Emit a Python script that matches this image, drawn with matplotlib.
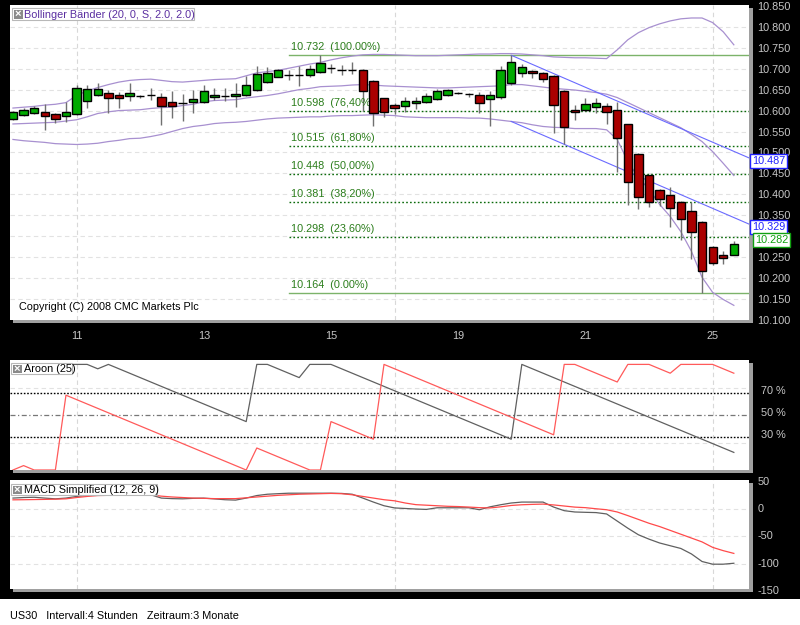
import matplotlib
matplotlib.use("Agg")
import matplotlib.pyplot as plt
from matplotlib.patches import Rectangle
from matplotlib.transforms import ScaledTranslation

plt.rcParams['font.family'] = ['Liberation Sans', 'DejaVu Sans']

# 4-hour candles, US30 (index 0..68)
opens = [10.581, 10.590, 10.594, 10.597, 10.592, 10.586, 10.592, 10.623, 10.637, 10.642,
         10.636, 10.634, 10.634, 10.636, 10.632, 10.620, 10.618, 10.620, 10.620, 10.632,
         10.635, 10.634, 10.636, 10.649, 10.668, 10.681, 10.686, 10.685, 10.685, 10.693,
         10.701, 10.697, 10.697, 10.697, 10.671, 10.629, 10.613, 10.611, 10.617, 10.620,
         10.628, 10.637, 10.642, 10.639, 10.638, 10.627, 10.632, 10.666, 10.690, 10.695,
         10.690, 10.683, 10.646, 10.602, 10.602, 10.609, 10.611, 10.601, 10.568, 10.497,
         10.445, 10.411, 10.399, 10.382, 10.361, 10.335, 10.275, 10.256, 10.254]
highs = [10.600, 10.606, 10.611, 10.616, 10.594, 10.620, 10.662, 10.662, 10.666, 10.650,
         10.645, 10.666, 10.638, 10.654, 10.643, 10.647, 10.640, 10.649, 10.662, 10.655,
         10.655, 10.665, 10.683, 10.707, 10.705, 10.700, 10.696, 10.707, 10.709, 10.732,
         10.712, 10.708, 10.715, 10.700, 10.672, 10.630, 10.617, 10.632, 10.632, 10.643,
         10.652, 10.651, 10.645, 10.641, 10.644, 10.647, 10.707, 10.732, 10.710, 10.697,
         10.691, 10.684, 10.648, 10.613, 10.630, 10.631, 10.618, 10.620, 10.569, 10.498,
         10.446, 10.412, 10.418, 10.383, 10.381, 10.336, 10.276, 10.264, 10.289]
lows = [10.578, 10.588, 10.592, 10.553, 10.570, 10.573, 10.590, 10.605, 10.635, 10.593,
        10.606, 10.624, 10.630, 10.626, 10.566, 10.582, 10.574, 10.595, 10.618, 10.626,
        10.623, 10.608, 10.634, 10.647, 10.665, 10.679, 10.672, 10.659, 10.680, 10.690,
        10.690, 10.685, 10.688, 10.598, 10.564, 10.585, 10.592, 10.597, 10.603, 10.618,
        10.626, 10.635, 10.640, 10.632, 10.593, 10.564, 10.628, 10.660, 10.679, 10.678,
        10.667, 10.547, 10.521, 10.578, 10.600, 10.595, 10.568, 10.454, 10.374, 10.366,
        10.370, 10.373, 10.322, 10.292, 10.245, 10.164, 10.231, 10.234, 10.254]
closes = [10.597, 10.602, 10.605, 10.588, 10.581, 10.597, 10.655, 10.651, 10.651, 10.631,
          10.629, 10.643, 10.634, 10.636, 10.612, 10.612, 10.617, 10.628, 10.647, 10.637,
          10.635, 10.640, 10.661, 10.687, 10.690, 10.697, 10.686, 10.685, 10.699, 10.713,
          10.701, 10.697, 10.697, 10.646, 10.593, 10.597, 10.605, 10.624, 10.624, 10.635,
          10.647, 10.649, 10.642, 10.639, 10.618, 10.638, 10.697, 10.715, 10.704, 10.690,
          10.675, 10.613, 10.561, 10.597, 10.616, 10.617, 10.597, 10.535, 10.430, 10.394,
          10.381, 10.389, 10.368, 10.342, 10.311, 10.218, 10.237, 10.249, 10.282]

# Bollinger (20, 2.0)
bb_upper = [10.606, 10.608, 10.610, 10.613, 10.615, 10.619, 10.636, 10.647, 10.655, 10.662,
            10.668, 10.672, 10.674, 10.675, 10.672, 10.669, 10.668, 10.670, 10.672, 10.674,
            10.675, 10.676, 10.683, 10.690, 10.693, 10.696, 10.701, 10.706, 10.711, 10.715,
            10.721, 10.726, 10.730, 10.733, 10.734, 10.734, 10.733, 10.732, 10.731, 10.731,
            10.731, 10.732, 10.733, 10.734, 10.735, 10.735, 10.736, 10.736, 10.735, 10.733,
            10.731, 10.728, 10.727, 10.726, 10.726, 10.725, 10.724, 10.745, 10.769, 10.786,
            10.798, 10.807, 10.814, 10.819, 10.821, 10.821, 10.810, 10.788, 10.757]
bb_middle = [10.568, 10.569, 10.570, 10.571, 10.572, 10.575, 10.578, 10.585, 10.593, 10.597,
             10.600, 10.601, 10.602, 10.605, 10.607, 10.608, 10.612, 10.615, 10.621, 10.624,
             10.625, 10.626, 10.630, 10.633, 10.636, 10.640, 10.645, 10.650, 10.653, 10.657,
             10.658, 10.659, 10.661, 10.662, 10.661, 10.659, 10.658, 10.657, 10.656, 10.655,
             10.654, 10.654, 10.655, 10.656, 10.657, 10.658, 10.659, 10.662, 10.662, 10.659,
             10.656, 10.653, 10.651, 10.649, 10.646, 10.643, 10.639, 10.631, 10.619, 10.607,
             10.595, 10.583, 10.571, 10.559, 10.543, 10.526, 10.502, 10.474, 10.445]
bb_lower = [10.531, 10.528, 10.526, 10.524, 10.521, 10.520, 10.519, 10.520, 10.522, 10.526,
            10.529, 10.533, 10.534, 10.538, 10.543, 10.550, 10.557, 10.562, 10.565, 10.569,
            10.571, 10.572, 10.574, 10.577, 10.580, 10.582, 10.583, 10.584, 10.585, 10.585,
            10.587, 10.588, 10.588, 10.589, 10.590, 10.589, 10.588, 10.585, 10.584, 10.583,
            10.583, 10.583, 10.583, 10.582, 10.582, 10.580, 10.577, 10.574, 10.571, 10.566,
            10.562, 10.560, 10.559, 10.557, 10.557, 10.557, 10.554, 10.531, 10.478, 10.440,
            10.412, 10.376, 10.347, 10.311, 10.264, 10.202, 10.166, 10.149, 10.135]

# Fibonacci retracement
fib_prices = [10.732, 10.598, 10.515, 10.448, 10.381, 10.298, 10.164]
fib_pcts = ['100.00%', '76,40%', '61,80%', '50,00%', '38,20%', '23,60%', '0.00%']
fib_start = 26

# trend channel (start index, start price, end price at right edge)
trend_start = 47
trend_upper = [10.732, 10.487]
trend_lower = [10.574, 10.329]

# Aroon (25)
aroon_up = [96, 96, 96, 96, 96, 96, 96, 96, 92, 96,
            92, 88, 84, 80, 76, 72, 68, 64, 60, 56,
            52, 48, 44, 96, 96, 92, 88, 84, 96, 96,
            96, 92, 88, 84, 80, 76, 72, 68, 64, 60,
            56, 52, 48, 44, 40, 36, 32, 28, 96, 92,
            88, 84, 80, 76, 72, 68, 64, 60, 56, 52,
            48, 44, 40, 36, 32, 28, 24, 20, 16]
aroon_down = [0, 4, 0, 0, 0, 68, 64, 60, 56, 52,
              48, 44, 40, 36, 32, 28, 24, 20, 16, 12,
              8, 4, 0, 20, 16, 12, 8, 4, 0, 0,
              44, 40, 36, 32, 28, 96, 92, 88, 84, 80,
              76, 72, 68, 64, 60, 56, 52, 48, 44, 40,
              36, 32, 96, 96, 92, 88, 84, 80, 96, 96,
              96, 92, 88, 96, 96, 96, 96, 92, 88]

# MACD simplified (12, 26, 9)
macd_line = [20, 21, 21.5, 20, 18.6, 20, 23, 25, 27.5, 27.5,
             27, 26.5, 26, 26, 20, 19, 18.6, 19.5, 19.9, 18.5,
             17, 16.3, 20, 24.6, 27, 28, 28.9, 28.9, 28.9, 28.9,
             28.9, 28.5, 27, 20, 12.7, 6, 2, 1, 0, -0.7,
             2.3, 2.3, 2.3, 2.3, -1.3, 4, 7.8, 11, 12.7, 12.7,
             12.7, 3.6, -3, -5.4, -6, -6.5, -9, -22, -35, -47,
             -55, -62, -67, -72, -82, -95.8, -100.7, -100.7, -99]
macd_signal = [16.8, 17, 17.3, 17.6, 18, 18.6, 21, 23, 24.6, 25,
               25.3, 25.5, 25.7, 25.9, 23.5, 22, 21, 20, 19.5, 19,
               19, 19, 20.5, 22, 23.5, 25, 26, 27, 27.5, 28,
               28.5, 28, 26, 23, 20, 17, 15, 11, 8, 7,
               6, 5, 4.5, 3.6, 2.5, 2, 4, 6.5, 7.8, 8.5,
               9, 7.5, 5.5, 3.5, 2.5, 0.5, -1.3, -5.4, -12, -19,
               -26, -32, -39, -46, -53, -60, -70, -76, -81]

date_pos = [6, 18, 30, 42, 54, 66]
date_labels = ['11', '13', '15', '19', '21', '25']
week_lines = [6, 36, 66]

W, H = 800, 625
fig = plt.figure(figsize=(8, 6.25), dpi=100, facecolor='black')
FS = 7.8
AXCOL = '#c8c8c8'
XL = (-0.28, 69.43)


def px_axes(x0, y0, x1, y1):
    return fig.add_axes([x0 / W, 1 - y1 / H, (x1 - x0) / W, (y1 - y0) / H])


def fig_rect(x0, y0, x1, y1, **kw):
    fig.add_artist(Rectangle((x0 / W, 1 - y1 / H), (x1 - x0) / W, (y1 - y0) / H,
                             transform=fig.transFigure, **kw))


def style(ax):
    ax.set_facecolor('white')
    for s in ax.spines.values():
        s.set_visible(False)
    ax.set_xlim(*XL)
    ax.yaxis.tick_right()
    ax.tick_params(axis='both', length=0, labelsize=FS, colors=AXCOL)
    ax.tick_params(axis='y', pad=6)
    for v in week_lines:
        ax.axvline(v, color='#d8d8d8', lw=0.8, ls=(0, (4, 3)), zorder=0)


def tag(x0, y0, x1, y1, text, color):
    fig_rect(x0, y0, x1, y1, facecolor='white', edgecolor='#b8b8b8', lw=0.8, zorder=6)
    fig_rect(x0 + 1.5, y0 + 1.5, x0 + 10.5, y1 - 1.5, facecolor='#8a8a8a', edgecolor='none', zorder=7)
    fig.text((x0 + 6) / W, 1 - ((y0 + y1) / 2) / H, '×', color='white', fontsize=8,
             ha='center', va='center', fontweight='bold', zorder=8)
    fig.text((x0 + 12.5) / W, 1 - ((y0 + y1) / 2 + 0.5) / H, text, color=color,
             fontsize=FS, ha='left', va='center', zorder=8)


# panel shadows and footer band
for (y0, y1) in [(5, 320), (360, 470), (480, 589)]:
    fig_rect(749, y0 + 3, 753, y1 + 3, facecolor='#a0a0a0', edgecolor='none', zorder=-1)
    fig_rect(13, y1, 753, y1 + 3, facecolor='#a0a0a0', edgecolor='none', zorder=-1)
fig_rect(0, 599, 800, 625, facecolor='white', edgecolor='none', zorder=-1)

# ---------------- main price panel ----------------
ax = px_axes(10, 5, 749, 320)
style(ax)
ax.set_ylim(10.100, 10.852)
ax.set_yticks([10.10 + 0.05 * k for k in range(16)])
ax.set_yticklabels([f'{10.10 + 0.05 * k:.3f}' for k in range(16)])
for k in range(1, 15):
    ax.axhline(10.10 + 0.05 * k, color='#e2e2e2', lw=0.8, ls=(0, (4, 3)), zorder=0)
ax.set_xticks(date_pos)
ax.set_xticklabels(date_labels)
ax.tick_params(axis='x', pad=8)

n = len(closes)
xs = list(range(n))
ax.plot(xs, bb_upper, color='#a890d0', lw=0.9, zorder=2)
ax.plot(xs, bb_middle, color='#a890d0', lw=0.9, zorder=2)
ax.plot(xs, bb_lower, color='#a890d0', lw=0.9, zorder=2)

ax.vlines(xs, lows, highs, color='#707070', lw=1.0, zorder=3)
for i in range(n):
    up = closes[i] >= opens[i]
    ax.bar(i, abs(closes[i] - opens[i]), bottom=min(opens[i], closes[i]), width=0.78,
           color='#00aa00' if up else '#aa0000', edgecolor='black', lw=1.0, zorder=4)

# fibonacci
for k, (p, pct) in enumerate(zip(fib_prices, fib_pcts)):
    if k == 0 or k == len(fib_prices) - 1:
        ax.plot([fib_start, XL[1]], [p, p], color='#7cb36a', lw=1.0, zorder=1)
    else:
        ax.plot([fib_start, XL[1]], [p, p], color='#0a6a0a', lw=1.0, ls=(0, (1.2, 1.6)), zorder=1)
    ax.annotate(f'{p:.3f}  ({pct})', xy=(fib_start + 0.25, p), xytext=(0, 3),
                textcoords='offset pixels', color='#2b7d1b', fontsize=FS, va='bottom', ha='left')

# trend channel
ax.plot([trend_start, XL[1]], trend_upper, color='#6a6aff', lw=0.8, zorder=2)
ax.plot([trend_start, XL[1]], trend_lower, color='#6a6aff', lw=0.8, zorder=2)

for val, col, dx, dy in [(trend_upper[1], '#2020ff', 3, -3), (trend_lower[1], '#2020ff', 3, -3),
                         (closes[-1], '#10a010', 6, 4)]:
    ax.annotate(f'{val:.3f}', xy=(1, val), xycoords=('axes fraction', 'data'),
                xytext=(dx, dy), textcoords='offset pixels', color=col, fontsize=FS,
                ha='left', va='center', annotation_clip=False, zorder=10,
                bbox=dict(boxstyle='square,pad=0.2', fc='white', ec=col, lw=1.0))

ax.text(0.0125, 0.025, 'Copyright (C) 2008 CMC Markets Plc', transform=ax.transAxes,
        fontsize=FS, color='black', ha='left', va='bottom')

# ---------------- Aroon panel ----------------
ax2 = px_axes(10, 360, 749, 470)
style(ax2)
ax2.set_ylim(0, 100)
ax2.set_xticks([])
ax2.set_yticks([70, 50, 30])
ax2.set_yticklabels(['70 %', '50 %', '30 %'])
ax2.tick_params(axis='y', pad=9)
for lbl in ax2.get_yticklabels():
    lbl.set_transform(lbl.get_transform() + ScaledTranslation(0, 0.035, fig.dpi_scale_trans))
for v in [25, 75]:
    ax2.axhline(v, color='#e2e2e2', lw=0.8, ls=(0, (4, 3)), zorder=0)
ax2.axhline(70, color='black', lw=1.0, ls=(0, (1.2, 1.2)), zorder=1)
ax2.axhline(30, color='black', lw=1.0, ls=(0, (1.2, 1.2)), zorder=1)
ax2.axhline(50, color='#777777', lw=0.9, ls=(0, (4, 2, 1, 2)), zorder=1)
ax2.plot(xs, aroon_up, color='#606060', lw=0.9, zorder=2)
ax2.plot(xs, aroon_down, color='#ff5a5a', lw=0.9, zorder=3)

# ---------------- MACD panel ----------------
ax3 = px_axes(10, 480, 749, 589)
style(ax3)
ax3.set_ylim(-146, 53)
ax3.set_xticks([])
ax3.set_yticks([])
for v in [0, -50, -100]:
    ax3.axhline(v, color='#e2e2e2', lw=0.8, ls=(0, (4, 3)), zorder=0)
for v in [50, 0, -50, -100, -150]:
    ax3.text(1.011, v, str(v), transform=ax3.get_yaxis_transform(), color=AXCOL,
             fontsize=FS, ha='left', va='center', clip_on=False)
ax3.plot(xs, macd_line, color='#606060', lw=0.9, zorder=2)
ax3.plot(xs, macd_signal, color='#ff4a4a', lw=0.9, zorder=3)

# indicator tags
tag(12, 8, 194, 20, 'Bollinger Bänder (20, 0, S, 2.0, 2.0)', '#5a2ea0')
tag(11, 363, 72, 374, 'Aroon (25)', 'black')
tag(11, 484, 157, 495, 'MACD Simplified (12, 26, 9)', 'black')

fig.text(10 / W, 1 - 616 / H, 'US30   Intervall:4 Stunden   Zeitraum:3 Monate',
         color='black', fontsize=FS, ha='left', va='center')

fig.savefig('out.png', dpi=100, facecolor='black')
